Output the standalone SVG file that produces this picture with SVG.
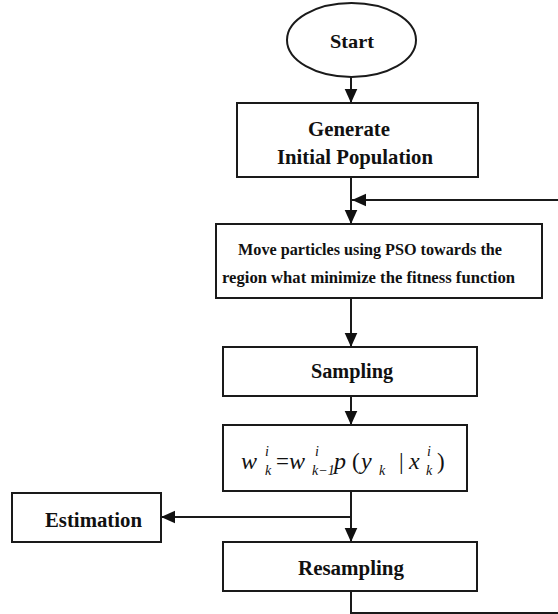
<svg xmlns="http://www.w3.org/2000/svg" width="558" height="614" viewBox="0 0 558 614">
<style>
.box{fill:#fff;stroke:#1a1a1a;stroke-width:2}
.ln{fill:none;stroke:#1a1a1a;stroke-width:2}
.t{font-family:"Liberation Serif","DejaVu Serif",serif;font-weight:bold;fill:#111;text-anchor:middle}
.m{font-family:"Liberation Serif","DejaVu Serif",serif;font-style:italic;fill:#111;font-size:24px}
.mr{font-family:"Liberation Serif","DejaVu Serif",serif;fill:#111;font-size:23px}
.s{font-family:"Liberation Serif","DejaVu Serif",serif;font-style:italic;fill:#111;font-size:14px}
</style>
<defs>
<marker id="ah2" viewBox="0 0 10 10" refX="10" refY="5" markerWidth="14" markerHeight="14" markerUnits="userSpaceOnUse" orient="auto">
<path d="M0,0.5 L10,5 L0,9.5 Z" fill="#111"/>
</marker>
</defs>
<g id="connectors">
<line class="ln" x1="351" y1="77" x2="351" y2="103" marker-end="url(#ah2)"/>
<line class="ln" x1="351" y1="177" x2="351" y2="224" marker-end="url(#ah2)"/>
<line class="ln" x1="558" y1="200" x2="352" y2="200" marker-end="url(#ah2)"/>
<line class="ln" x1="351" y1="298" x2="351" y2="347" marker-end="url(#ah2)"/>
<line class="ln" x1="351" y1="396" x2="351" y2="425" marker-end="url(#ah2)"/>
<line class="ln" x1="351" y1="491" x2="351" y2="542" marker-end="url(#ah2)"/>
<line class="ln" x1="351" y1="517" x2="161" y2="517" marker-end="url(#ah2)"/>
<polyline class="ln" points="351,591 351,613 558,613"/>
</g>
<g id="start">
<ellipse class="box" cx="351.5" cy="40" rx="64.5" ry="37"/>
<text class="t" x="352" y="48" font-size="19" textLength="44" lengthAdjust="spacingAndGlyphs">Start</text>
</g>
<g id="generate">
<rect class="box" x="237" y="103" width="241" height="74"/>
<text class="t" x="349" y="136" font-size="21" textLength="82" lengthAdjust="spacingAndGlyphs">Generate</text>
<text class="t" x="355" y="164" font-size="21" textLength="156" lengthAdjust="spacingAndGlyphs">Initial Population</text>
</g>
<g id="move">
<rect class="box" x="216" y="224" width="326" height="74"/>
<text class="t" x="370" y="255" font-size="17" textLength="264" lengthAdjust="spacingAndGlyphs">Move particles using PSO towards the</text>
<text class="t" x="368.5" y="283" font-size="17" textLength="293" lengthAdjust="spacingAndGlyphs">region what minimize the fitness function</text>
</g>
<g id="sampling">
<rect class="box" x="223" y="347" width="254" height="49"/>
<text class="t" x="352" y="378" font-size="20" textLength="82" lengthAdjust="spacingAndGlyphs">Sampling</text>
</g>
<g id="weights">
<rect class="box" x="223" y="425" width="244" height="66"/>
<text class="m" x="241" y="469">w</text>
<text class="s" x="265" y="456">i</text>
<text class="s" x="265" y="475">k</text>
<text class="mr" x="276" y="469">=</text>
<text class="m" x="289" y="469">w</text>
<text class="s" x="315" y="456">i</text>
<text class="s" x="312" y="475">k−1</text>
<text class="m" x="334" y="469">p</text>
<text class="mr" x="352" y="469">(</text>
<text class="m" x="361" y="469">y</text>
<text class="s" x="379" y="475">k</text>
<text class="mr" x="399" y="469">|</text>
<text class="m" x="409" y="469">x</text>
<text class="s" x="427" y="456">i</text>
<text class="s" x="426" y="475">k</text>
<text class="mr" x="437" y="469">)</text>
</g>
<g id="estimation">
<rect class="box" x="12" y="493" width="149" height="49"/>
<text class="t" x="93.5" y="527" font-size="20" textLength="97" lengthAdjust="spacingAndGlyphs">Estimation</text>
</g>
<g id="resampling">
<rect class="box" x="223" y="542" width="254" height="49"/>
<text class="t" x="351" y="575" font-size="20" textLength="106" lengthAdjust="spacingAndGlyphs">Resampling</text>
</g>
</svg>
